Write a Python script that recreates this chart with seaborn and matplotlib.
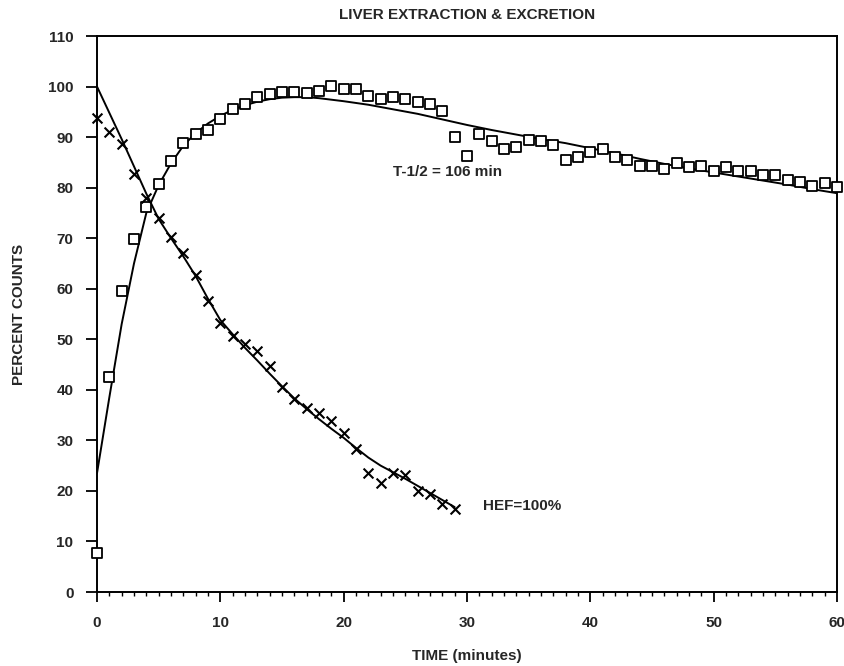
import matplotlib
matplotlib.use("Agg")
import matplotlib.pyplot as plt
import seaborn as sns
import numpy as np
import pandas as pd
from matplotlib.ticker import MultipleLocator

# ---- data ----
sq_time = list(range(0, 61))
sq_pct = [7.7, 42.5, 59.5, 69.8, 76.2, 80.8, 85.3, 88.8, 90.6, 91.5,
          93.5, 95.5, 96.5, 98.0, 98.5, 99.0, 99.0, 98.8, 99.2, 100.1,
          99.6, 99.5, 98.2, 97.5, 98.0, 97.5, 97.0, 96.5, 95.2, 90.1,
          86.3, 90.7, 89.2, 87.6, 88.1, 89.4, 89.3, 88.4, 85.5, 86.0,
          87.1, 87.6, 86.1, 85.5, 84.3, 84.3, 83.6, 84.8, 84.1, 84.3,
          83.2, 84.1, 83.2, 83.2, 82.5, 82.5, 81.5, 81.2, 80.3, 81.0,
          80.1]

x_time = list(range(0, 30))
x_pct = [93.7, 91.1, 88.6, 82.7, 77.9, 73.9, 70.2, 67.0, 62.7, 57.6,
         53.3, 50.6, 49.0, 47.7, 44.7, 40.5, 38.1, 36.5, 35.5, 33.9,
         31.5, 28.3, 23.5, 21.5, 23.5, 23.1, 20.0, 19.4, 17.4, 16.4]

# fitted curves as drawn in the reference
rise_t = [0, 1, 2, 3, 4, 5, 6, 7, 8, 9, 10, 11, 12, 13, 14, 15, 16, 17, 18,
          20, 22, 24, 26, 28, 30, 32, 34, 36, 38, 40, 42, 44, 46, 48, 50,
          52, 54, 56, 58, 60]
rise_v = [23.5, 38.5, 53.0, 65.0, 75.0, 80.5, 84.8, 88.3, 90.8, 92.7, 94.2,
          95.4, 96.3, 97.0, 97.5, 97.8, 97.9, 97.9, 97.7, 97.1, 96.4, 95.5,
          94.6, 93.5, 92.4, 91.4, 90.5, 89.6, 88.8, 87.8, 86.8, 85.7, 84.7,
          83.8, 83.0, 82.2, 81.4, 80.6, 79.7, 78.9]

decay_t = list(range(0, 30))
decay_v = [100.0, 94.8, 89.6, 84.2, 78.8, 73.8, 70.0, 66.4, 62.5, 58.0,
           53.8, 51.0, 48.3, 45.8, 43.2, 40.7, 38.3, 36.2, 34.2, 32.3,
           30.5, 28.5, 26.6, 25.0, 23.7, 22.4, 21.0, 19.6, 18.2, 16.8]

x_ticks = [0, 10, 20, 30, 40, 50, 60]
y_ticks = list(range(0, 111, 10))

title = "LIVER EXTRACTION & EXCRETION"
xlabel = "TIME (minutes)"
ylabel = "PERCENT COUNTS"
note_half = "T-1/2 = 106 min"
note_hef = "HEF=100%"

# ---- plotting ----
sns.set_theme(style="white")
fam = ["Liberation Sans Narrow", "Liberation Sans", "DejaVu Sans"]
plt.rcParams["font.family"] = fam
plt.rcParams["font.weight"] = "bold"

fig = plt.figure(figsize=(8.44, 6.66), dpi=100)
ax = fig.add_axes([97 / 844, 1 - 592 / 666, 740 / 844, 556 / 666])

df_sq = pd.DataFrame({"t": sq_time, "v": sq_pct})
df_x = pd.DataFrame({"t": x_time, "v": x_pct})
df_r = pd.DataFrame({"t": rise_t, "v": rise_v})
df_d = pd.DataFrame({"t": decay_t, "v": decay_v})

sns.lineplot(data=df_r, x="t", y="v", ax=ax, color="black", lw=1.4,
             estimator=None, sort=False)
sns.lineplot(data=df_d, x="t", y="v", ax=ax, color="black", lw=1.4,
             estimator=None, sort=False)
sns.scatterplot(data=df_sq, x="t", y="v", ax=ax, marker="s", s=52,
                facecolor="white", edgecolor="black", linewidth=1.3,
                zorder=3, clip_on=False)
sns.scatterplot(data=df_x, x="t", y="v", ax=ax, marker="x", s=50,
                color="black", linewidth=1.5, zorder=3, clip_on=False)

ax.set_xlim(0, 60)
ax.set_ylim(0, 110)
ax.set_xticks(x_ticks)
ax.set_yticks(y_ticks)
ax.xaxis.set_minor_locator(MultipleLocator(1))
ax.tick_params(axis="x", which="major", direction="out", length=7,
               width=1.3, color="black", pad=10, labelsize=11,
               bottom=True)
ax.tick_params(axis="x", which="minor", direction="out", length=3,
               width=1.0, color="black", bottom=True)
ax.tick_params(axis="y", which="major", direction="out", length=8,
               width=1.3, color="black", pad=9, labelsize=11, left=True)
for lab in ax.get_xticklabels() + ax.get_yticklabels():
    lab.set_fontweight("bold")

for sp in ax.spines.values():
    sp.set_visible(True)
    sp.set_color("black")
    sp.set_linewidth(1.4)

ax.set_xlabel(xlabel, fontsize=11, fontweight="bold", labelpad=14)
ax.set_ylabel(ylabel, fontsize=11, fontweight="bold", labelpad=16)
ax.set_title(title, fontsize=11, fontweight="bold", pad=12)

ax.text(24.0, 83.0, note_half, fontsize=11, fontweight="bold",
        ha="left", va="center")
ax.text(31.3, 17.0, note_hef, fontsize=11, fontweight="bold",
        ha="left", va="center")

fig.savefig("out.png", dpi=100, facecolor="white")
